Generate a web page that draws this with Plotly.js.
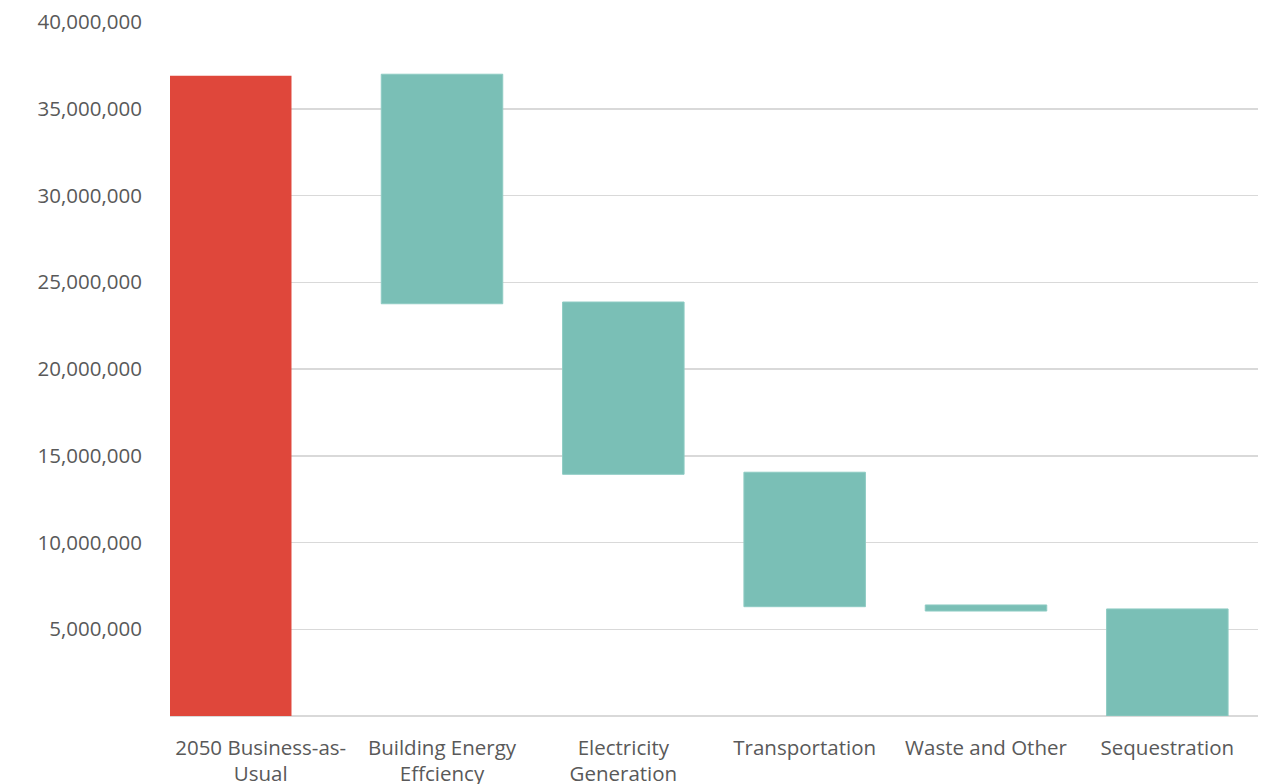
<!DOCTYPE html>
<html>
<head>
<meta charset="utf-8">
<script src="https://cdn.plot.ly/plotly-3.0.1.min.js"></script>
<style>html,body{margin:0;padding:0;background:#fff;}#chart{width:1268px;height:784px;}</style>
</head>
<body>
<div id="chart"></div>
<script>
const categories = ["2050 Business-as-<br>Usual", "Building Energy<br>Effciency", "Electricity<br>Generation", "Transportation", "Waste and Other", "Sequestration"];
const baselineCategory = ["2050 Business-as-<br>Usual"];
const baselineValue = [36900000];
const wedgeCategories = ["Building Energy<br>Effciency", "Electricity<br>Generation", "Transportation", "Waste and Other", "Sequestration"];
const wedgeTop = [36990000, 23860000, 14050000, 6400000, 6170000];
const wedgeBottom = [23760000, 13930000, 6300000, 6050000, 0];
const yTickVals = [5000000, 10000000, 15000000, 20000000, 25000000, 30000000, 35000000, 40000000];

const wedgeSize = wedgeTop.map((t, i) => t - wedgeBottom[i]);

const traces = [
  {
    type: 'bar', x: baselineCategory, y: baselineValue,
    width: 0.67, offset: -0.5,
    marker: {color: '#DF473B'},
    hoverinfo: 'skip'
  },
  {
    type: 'bar', x: wedgeCategories, y: wedgeSize, base: wedgeBottom,
    width: 0.67, offset: -0.335,
    marker: {color: '#7ABFB6', line: {color: '#8ECBC3', width: 1}},
    hoverinfo: 'skip'
  }
];

const layout = {
  width: 1268, height: 784,
  margin: {l: 170, r: 10, t: 22, b: 68},
  paper_bgcolor: '#ffffff', plot_bgcolor: '#ffffff',
  showlegend: false,
  barmode: 'overlay',
  font: {family: 'Open Sans, sans-serif', size: 20.5, color: '#595959'},
  xaxis: {
    type: 'category', categoryarray: categories, categoryorder: 'array',
    showgrid: false, zeroline: false, showline: false,
    ticks: 'outside', ticklen: 13, tickcolor: 'rgba(0,0,0,0)',
    tickfont: {family: 'Open Sans, sans-serif', size: 20.5, color: '#595959'},
    range: [-0.5, 5.5]
  },
  yaxis: {
    range: [0, 40000000], tickvals: yTickVals, tickformat: ',d',
    showgrid: true, gridcolor: '#D9D9D9', gridwidth: 1.5,
    zeroline: true, zerolinecolor: '#D9D9D9', zerolinewidth: 1.5,
    showline: false,
    ticks: 'outside', ticklen: 23, tickcolor: 'rgba(0,0,0,0)',
    tickfont: {family: 'Open Sans, sans-serif', size: 20.5, color: '#595959'}
  }
};

Plotly.newPlot('chart', traces, layout, {displayModeBar: false, staticPlot: true});
</script>
</body>
</html>
